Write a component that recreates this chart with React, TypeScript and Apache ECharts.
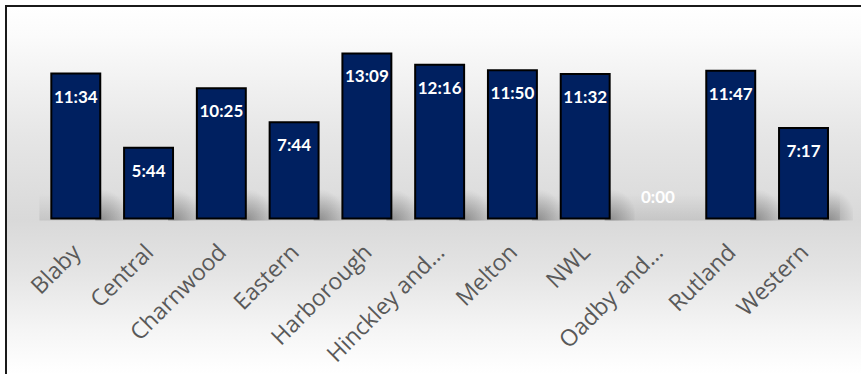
import React, { useEffect, useRef } from "react";
import * as echarts from "echarts";

const categories = [
  "Blaby",
  "Central",
  "Charnwood",
  "Eastern",
  "Harborough",
  "Hinckley and…",
  "Melton",
  "NWL",
  "Oadby and…",
  "Rutland",
  "Western",
];

// response times in seconds (m:ss shown on the bars)
const seconds = [694, 344, 625, 464, 789, 736, 710, 692, 0, 707, 437];

const fmt = (v: number) => {
  const m = Math.floor(v / 60);
  const s = Math.round(v - m * 60);
  return m + ":" + (s < 10 ? "0" + s : String(s));
};

export default function App() {
  const ref = useRef<HTMLDivElement>(null);

  useEffect(() => {
    document.documentElement.style.overflow = "hidden";
    document.body.style.margin = "0";
    document.body.style.overflow = "hidden";
    if (!ref.current) return;
    const chart = echarts.init(ref.current, undefined, { renderer: "svg" });

    const gridLeft = 32.4;
    const gridRight = 21.1;
    const gridTop = 22;
    const gridBottom = 154.5;
    const W = 854;
    const H = 367;

    const option: any = {
      animation: false,
      backgroundColor: "transparent",
      grid: {
        left: gridLeft,
        right: gridRight,
        top: gridTop,
        bottom: gridBottom,
        containLabel: false,
      },
      graphic: [
        {
          type: "rect",
          z: -1,
          silent: true,
          shape: {
            x: gridLeft,
            y: H - gridBottom - 26,
            width: W - gridLeft - gridRight,
            height: 27,
          },
          style: {
            fill: new echarts.graphic.LinearGradient(0, 0, 0, 1, [
              { offset: 0, color: "rgba(0,0,0,0)" },
              { offset: 1, color: "rgba(0,0,0,0.09)" },
            ]),
          },
        },
      ],
      xAxis: {
        type: "category",
        data: categories,
        axisLine: { show: false },
        axisTick: { show: false },
        axisLabel: {
          rotate: 45,
          interval: 0,
          margin: 28,
          color: "#595959",
          fontSize: 23,
          fontFamily: "Open Sans",
        },
      },
      yAxis: {
        type: "value",
        min: 0,
        max: 900,
        show: false,
        splitLine: { show: false },
      },
      series: [
        {
          type: "custom",
          z: 1,
          silent: true,
          data: seconds.map((v, i) => [i, v]),
          renderItem: (params: any, api: any) => {
            const idx = api.value(0);
            const val = api.value(1);
            if (!val) return null;
            const base = api.coord([idx, 0]);
            const top = api.coord([idx, val]);
            const bw = api.size([1, 0])[0] * 0.7;
            const h = Math.min(base[1] - top[1], 34);
            const right = base[0] + bw / 2;
            return {
              type: "rect",
              shape: { x: right - 6, y: base[1] - h, width: 30, height: h + 1 },
              style: {
                fill: new echarts.graphic.RadialGradient(0.2, 1, 0.9, [
                  { offset: 0, color: "rgba(0,0,0,0.28)" },
                  { offset: 1, color: "rgba(0,0,0,0)" },
                ]),
              },
            };
          },
        },
        {
          type: "bar",
          z: 2,
          data: seconds.map((v) =>
            v === 0
              ? {
                  value: v,
                  itemStyle: { borderWidth: 0, color: "rgba(0,0,0,0)" },
                  label: { position: "top", distance: 15 },
                }
              : v
          ),
          barCategoryGap: "30%",
          itemStyle: {
            color: "#002060",
            borderColor: "#000000",
            borderWidth: 2,
          },
          label: {
            show: true,
            position: "insideTop",
            distance: 15,
            color: "#ffffff",
            fontSize: 17,
            fontWeight: "bold",
            fontFamily: "Lato",
            formatter: (p: any) => fmt(p.value),
          },
        },
      ],
    };

    chart.setOption(option);
    return () => chart.dispose();
  }, []);

  return (
    <div
      style={{
        position: "fixed",
        left: 0,
        top: 0,
        width: 861,
        height: 374,
        background: "#ffffff",
        overflow: "hidden",
      }}
    >
      <div
        ref={ref}
        style={{
          position: "absolute",
          left: 5,
          top: 5,
          width: 854,
          height: 367,
          borderLeft: "2px solid #1a1a1a",
          borderTop: "2px solid #1a1a1a",
          background:
            "linear-gradient(to bottom, #ffffff 0%, #fbfbfb 8%, #e6e6e6 35%, #d9d9d9 58%, #e4e4e4 72%, #f5f5f5 88%, #ffffff 100%)",
        }}
      />
    </div>
  );
}
